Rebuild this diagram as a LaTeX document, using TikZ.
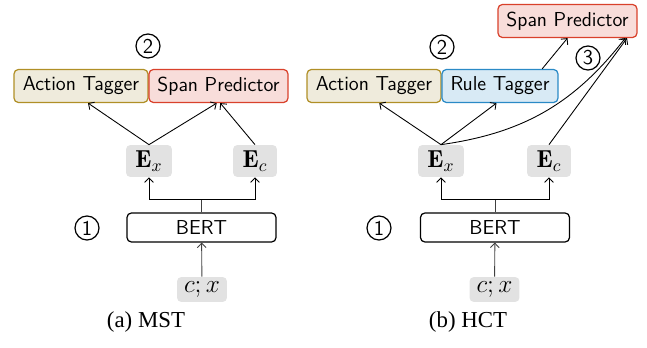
\documentclass[tikz,border=0pt]{standalone}
\usepackage{fontspec}
\newfontfamily\capfont{Liberation Serif}
\usetikzlibrary{positioning,calc,arrows.meta}
\definecolor{actfill}{HTML}{EFEBDC}
\definecolor{actline}{HTML}{B08F26}
\definecolor{spanfill}{HTML}{F8DDDA}
\definecolor{spanline}{HTML}{D9412B}
\definecolor{rulefill}{HTML}{D8EAF5}
\definecolor{ruleline}{HTML}{2A8AC6}
\definecolor{embfill}{HTML}{E2E2E2}

\begin{document}
\begin{tikzpicture}[x=0.02cm, y=-0.02cm,
  box/.style={draw, rectangle, rounded corners=2.5pt, line width=0.7pt, minimum height=0.66cm, inner sep=0pt, font=\sffamily\fontsize{11.5}{13}\selectfont},
  acttag/.style={box, draw=actline, fill=actfill, minimum width=2.68cm},
  spantag/.style={box, draw=spanline, fill=spanfill, minimum width=2.78cm},
  ruletag/.style={box, draw=ruleline, fill=rulefill, minimum width=2.32cm},
  bertbox/.style={box, draw=black, minimum width=2.98cm, minimum height=0.58cm},
  emb/.style={rectangle, rounded corners=2.5pt, fill=embfill, inner sep=0pt, minimum height=0.64cm, font=\fontsize{14}{16}\selectfont},
  stepnum/.style={draw, circle, line width=0.7pt, minimum size=0.48cm, inner sep=0pt, font=\sffamily\fontsize{12}{14}\selectfont},
  capt/.style={font=\capfont\fontsize{13}{15}\selectfont},
  link/.style={line width=0.5pt},
  >={Straight Barb[length=2.5pt, width=5pt]}]
\useasboundingbox (0,0) rectangle (647,348);

% (a) MST
\node[stepnum] (ltwo) at (148,46) {2};
\node[acttag] (lact) at (81,86) {Action Tagger};
\node[spantag] (lspan) at (218.5,86) {Span Predictor};
\node[emb, minimum width=0.92cm] (lex) at (149,161) {$\mathbf{E}_x$};
\node[emb, minimum width=0.88cm] (lec) at (255,161) {$\mathbf{E}_c$};
\node[bertbox] (lbert) at (201.5,227.5) {BERT};
\node[stepnum] (lone) at (87,228) {1};
\node[emb, minimum width=1.0cm, minimum height=0.5cm] (lin) at (202,289.5) {$c;x$};
\node[capt] (lcap) at (146,322) {(a) MST};

\coordinate (lsplit) at (201.5,199);
\draw[link, ->, black!75] (lin) -- (lbert);
\draw[link, black!75] (lbert) -- (lsplit);
\draw[link, ->] (lsplit) -| (lex);
\draw[link, ->] (lsplit) -| (lec);
\draw[link, ->] (lex.north) -- ([xshift=4]lact.south);
\draw[link, ->] (lex.north) -- ([xshift=-1]lspan.south);
\draw[link, ->] (lec.north) -- ([xshift=1]lspan.south);

% (b) HCT
\node[stepnum] (rtwo) at (442,47) {2};
\node[stepnum] (rthree) at (588,58) {3};
\node[acttag] (ract) at (374,86) {Action Tagger};
\node[ruletag] (rrule) at (500,86) {Rule Tagger};
\node[spantag] (rspan) at (567.5,21) {Span Predictor};
\node[emb, minimum width=0.92cm] (rex) at (441,161) {$\mathbf{E}_x$};
\node[emb, minimum width=0.88cm] (rec) at (549,161) {$\mathbf{E}_c$};
\node[bertbox] (rbert) at (495,227.5) {BERT};
\node[stepnum] (rone) at (379,228) {1};
\node[emb, minimum width=1.0cm, minimum height=0.5cm] (rin) at (494.5,289.5) {$c;x$};
\node[capt] (rcap) at (468,322) {(b) HCT};

\coordinate (rsplit) at (495,199);
\draw[link, ->, black!75] (rin) -- (rbert);
\draw[link, black!75] (rbert) -- (rsplit);
\draw[link, ->] (rsplit) -| (rex);
\draw[link, ->] (rsplit) -| (rec);
\draw[link, ->] (rex.north) -- ([xshift=3]ract.south);
\draw[link, ->] (rex.north) -- ([xshift=-2]rrule.south);
\draw[link, ->] (rex.north) to[bend right=22] ([xshift=-7]rspan.south east);
\draw[link, ->] (rec.north) -- ([xshift=-6]rspan.south east);
\draw[link, ->] ([xshift=24]rrule.north) -- (rspan.south);
\end{tikzpicture}
\end{document}
